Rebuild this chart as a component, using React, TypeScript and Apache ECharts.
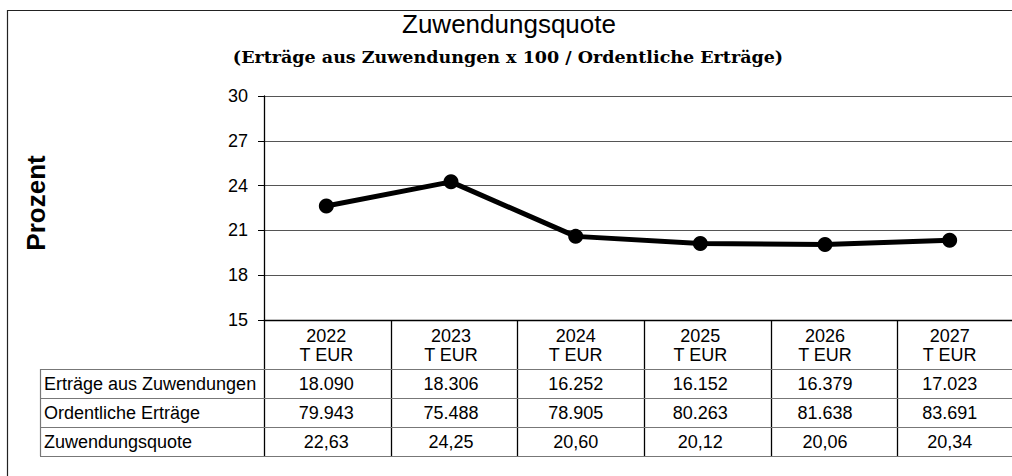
import React, { useEffect, useRef } from "react";
import * as echarts from "echarts";

const years = ["2022", "2023", "2024", "2025", "2026", "2027"];
const unitLabel = "T EUR";
const ertraegeZuwendungen = ["18.090", "18.306", "16.252", "16.152", "16.379", "17.023"];
const ordentlicheErtraege = ["79.943", "75.488", "78.905", "80.263", "81.638", "83.691"];
const quoteText = ["22,63", "24,25", "20,60", "20,12", "20,06", "20,34"];
const quoteValues = [22.63, 24.25, 20.6, 20.12, 20.06, 20.34];
const rowLabels = ["Erträge aus Zuwendungen", "Ordentliche Erträge", "Zuwendungsquote"];
const yTicks = { min: 15, max: 30, interval: 3 };

const FONT = "'Liberation Sans', Arial, Helvetica, sans-serif";

export default function App() {
  const ref = useRef<HTMLDivElement>(null);
  useEffect(() => {
    if (!ref.current) return;
    const chart = echarts.init(ref.current, undefined, { renderer: "svg" });

    const gridLeft = 264;
    const gridTop = 96;
    const gridHeight = 224;
    const gridWidth = 760;
    const axisY = gridTop + gridHeight;
    const colW = gridWidth / years.length;
    const tableLeft = 40;
    const rowTops = [369, 398, 427, 456];

    const graphics: any[] = [];
    graphics.push({
      type: "rect",
      shape: { x: 7.5, y: 10.5, width: 1100, height: 600 },
      style: { fill: "none", stroke: "#222", lineWidth: 1.2 },
      silent: true,
    });
    for (let i = 0; i <= years.length; i++) {
      const x = Math.round(gridLeft + i * colW) + 0.5;
      graphics.push({
        type: "line",
        shape: { x1: x, y1: axisY, x2: x, y2: rowTops[rowTops.length - 1] },
        style: { stroke: "#000", lineWidth: 1.3 },
        silent: true,
      });
    }
    graphics.push({
      type: "line",
      shape: { x1: tableLeft + 0.5, y1: rowTops[0], x2: tableLeft + 0.5, y2: rowTops[rowTops.length - 1] },
      style: { stroke: "#777", lineWidth: 1.2 },
      silent: true,
    });
    rowTops.forEach((y) => {
      graphics.push({
        type: "line",
        shape: { x1: tableLeft, y1: y + 0.5, x2: gridLeft + gridWidth, y2: y + 0.5 },
        style: { stroke: "#777", lineWidth: 1.2 },
        silent: true,
      });
    });
    rowLabels.forEach((t, i) => {
      graphics.push({
        type: "text",
        x: tableLeft + 4,
        y: (rowTops[i] + rowTops[i + 1]) / 2 + 0.5,
        style: { text: t, font: `18px ${FONT}`, fill: "#000", textVerticalAlign: "middle", textAlign: "left" },
        silent: true,
      });
    });
    graphics.push({
      type: "text",
      x: 36,
      y: 203,
      rotation: Math.PI / 2,
      style: {
        text: "Prozent",
        font: `bold 26px ${FONT}`,
        fill: "#000",
        textAlign: "center",
        textVerticalAlign: "middle",
      },
      silent: true,
    });
    graphics.push({
      type: "text",
      x: 509,
      y: 24,
      style: { text: "Zuwendungsquote", font: `26px ${FONT}`, fill: "#000", textAlign: "center", textVerticalAlign: "middle" },
      silent: true,
    });
    graphics.push({
      type: "text",
      x: 508,
      y: 57,
      style: {
        text: "(Erträge aus Zuwendungen x 100 / Ordentliche Erträge)",
        font: `bold 17.5px 'DejaVu Serif', 'Liberation Serif', serif`,
        fill: "#000",
        textAlign: "center",
        textVerticalAlign: "middle",
      },
      silent: true,
    });

    const st = { fontSize: 18, fontFamily: FONT, color: "#000", align: "center" };
    chart.setOption({
      animation: false,
      backgroundColor: "#fff",
      grid: { left: gridLeft, top: gridTop, height: gridHeight, width: gridWidth, containLabel: false },
      xAxis: {
        type: "category",
        data: years,
        boundaryGap: true,
        axisLine: { show: true, lineStyle: { color: "#000", width: 1.3 } },
        axisTick: { show: false },
        splitLine: { show: false },
        axisLabel: {
          margin: 6,
          interval: 0,
          formatter: (_v: string, idx: number) =>
            `{h|${years[idx]}}\n{h|${unitLabel}}\n{g| }\n{r|${ertraegeZuwendungen[idx]}}\n{r|${ordentlicheErtraege[idx]}}\n{r|${quoteText[idx]}}`,
          rich: {
            h: { ...st, lineHeight: 19 },
            g: { fontSize: 2, lineHeight: 5 },
            r: { ...st, lineHeight: 29 },
          },
        },
      },
      yAxis: {
        type: "value",
        min: yTicks.min,
        max: yTicks.max,
        interval: yTicks.interval,
        axisLine: { show: true, lineStyle: { color: "#000", width: 1.3 } },
        axisTick: { show: true, length: 6, lineStyle: { color: "#000" } },
        axisLabel: { fontSize: 18, fontFamily: FONT, color: "#000", margin: 16 },
        splitLine: { show: true, lineStyle: { color: "#555", width: 1.2 } },
      },
      series: [
        {
          type: "line",
          data: quoteValues,
          symbol: "circle",
          symbolSize: 15,
          lineStyle: { color: "#000", width: 5 },
          itemStyle: { color: "#000" },
        },
      ],
      graphic: graphics,
    });
    return () => chart.dispose();
  }, []);
  return (
    <div
      ref={ref}
      style={{ position: "fixed", left: 0, top: 0, width: 1012, height: 476, background: "#fff" }}
    />
  );
}
